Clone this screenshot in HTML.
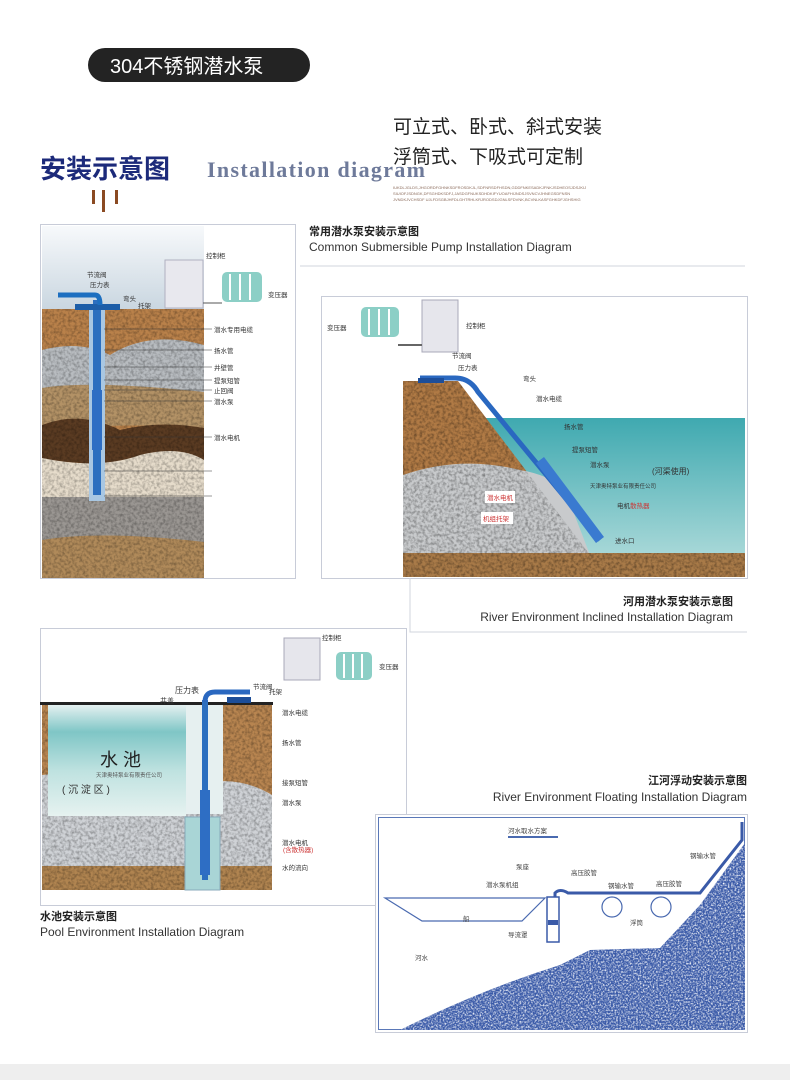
<!DOCTYPE html>
<html><head><meta charset="utf-8"><style>
html,body{margin:0;padding:0;background:#fff;}
body{width:790px;height:1080px;overflow:hidden;position:relative;font-family:"Liberation Sans","Noto Sans CJK SC",sans-serif;}
svg text{font-family:"Liberation Sans","Noto Sans CJK SC",sans-serif;}
</style></head><body>
<svg width="790" height="1080" viewBox="0 0 790 1080" xmlns="http://www.w3.org/2000/svg">
<defs>
<filter id="n" x="0" y="0" width="100%" height="100%"><feTurbulence type="fractalNoise" baseFrequency="0.35" numOctaves="2" seed="3"/><feColorMatrix type="matrix" values="0 0 0 0 0  0 0 0 0 0  0 0 0 0 0  0 0 0 1.2 -0.45"/><feComposite in2="SourceGraphic" operator="in"/></filter>
<filter id="w" x="0" y="0" width="100%" height="100%"><feTurbulence type="fractalNoise" baseFrequency="0.6" numOctaves="2" seed="5"/><feColorMatrix type="matrix" values="0 0 0 0 1  0 0 0 0 1  0 0 0 0 1  0 0 0 2.2 -0.9"/><feComposite in2="SourceGraphic" operator="in"/></filter>
<linearGradient id="sky" x1="0" y1="0" x2="0" y2="1"><stop offset="0" stop-color="#f7f9fb"/><stop offset="1" stop-color="#c9d6e0"/></linearGradient>
<linearGradient id="pool" x1="0" y1="0" x2="0" y2="1"><stop offset="0" stop-color="#e8f2f2"/><stop offset="0.25" stop-color="#7fc6c6"/><stop offset="0.6" stop-color="#bfe2e0"/><stop offset="1" stop-color="#e6f2f0"/></linearGradient>
<linearGradient id="water" x1="0" y1="0" x2="0" y2="1"><stop offset="0" stop-color="#3fa9b0"/><stop offset="1" stop-color="#a8d8d8"/></linearGradient>
</defs>
<rect width="790" height="1080" fill="#fff"/>
<rect x="0" y="1064" width="790" height="16" fill="#eeeeee"/>

<rect x="88" y="48" width="222" height="34" rx="17" fill="#232323"/>
<text x="110" y="73" font-size="20" fill="#fff">304不锈钢潜水泵</text>
<text x="393" y="133" font-size="19" fill="#222">可立式、卧式、斜式安装</text>
<text x="393" y="163" font-size="19" fill="#222">浮筒式、下吸式可定制</text>
<text x="40" y="178" font-size="26" font-weight="bold" fill="#1c2a7a">安装示意图</text>
<text x="207" y="177" font-size="22" font-weight="bold" fill="#6e7a9a" textLength="218" style="font-family:'Liberation Serif',serif">Installation diagram</text>
<g fill="#8a6a5a" font-size="4"><text x="393" y="189">IUKDLJGLDS,JHGORDFGHNKSDFROSDKJL,SDFNRSDFHSDN,GDDFNKESADKJFNKJSDHEOSJDSJKIJ</text><text x="393" y="195">SIUIOFJSDNGK,DFSGHDKSDFJ,JASDGFNUKSDHDKIFYUOAFHIJNDSJSVNCVJHNEGSDFNSN</text><text x="393" y="201">JVNDKJVCHSDF UJLFDSGBJHFDLGHTRHLKRJRODSDJGNLSFDVNK,BCVNLKASFGHKDFJGHSHIG</text></g>
<rect x="92" y="190" width="3" height="14" fill="#8b4a22"/><rect x="102" y="190" width="3" height="22" fill="#8b4a22"/><rect x="115" y="190" width="3" height="14" fill="#8b4a22"/>

<!-- Diagram 1 -->
<rect x="40.5" y="224.5" width="255" height="354" fill="#fff" stroke="#c8ccd8"/>
<rect x="42" y="226" width="162" height="84" fill="url(#sky)"/>
<rect x="42" y="309" width="162" height="269" fill="#b9814a"/>
<path d="M42 350 Q80 340 110 355 Q150 330 204 345 L204 395 L42 392Z" fill="#b8bcc0"/>
<path d="M42 388 Q90 380 204 392 L204 430 Q130 420 42 432Z" fill="#b39266"/>
<path d="M42 425 Q80 410 120 430 Q160 420 204 428 L204 460 Q150 470 42 460Z" fill="#5a3b22"/>
<path d="M42 458 Q100 470 140 455 Q180 445 204 460 L204 500 L42 498Z" fill="#e6dccb"/>
<rect x="42" y="497" width="162" height="45" fill="#9a9692"/>
<path d="M42 540 Q100 530 204 542 L204 578 L42 578Z" fill="#b08a5a"/>
<rect x="42" y="309" width="162" height="269" fill="#7a5030" filter="url(#n)" opacity="0.5"/>
<rect x="89" y="309" width="16" height="192" fill="#a9c7e2"/>
<rect x="93" y="300" width="8" height="195" fill="#2c6fbf"/>
<rect x="92" y="390" width="10" height="60" fill="#2e6ec4"/>
<rect x="75" y="304" width="45" height="6" fill="#1d5ea8"/>
<path d="M58 295 L95 295 Q100 295 100 305" stroke="#1d6fc0" stroke-width="5" fill="none"/>
<rect x="165" y="260" width="38" height="48" fill="#e8e8ee" stroke="#b0b0c0"/>
<rect x="222" y="272" width="40" height="30" rx="5" fill="#8ccfc6"/>
<path d="M230 274v26M240 274v26M250 274v26" stroke="#fff" stroke-width="2"/>
<line x1="203" y1="303" x2="222" y2="303" stroke="#555"/>
<g font-size="6.5" fill="#333"><text x="206" y="258">控制柜</text><text x="268" y="297">变压器</text><text x="87" y="277">节流阀</text><text x="90" y="287">压力表</text><text x="123" y="301">弯头</text><text x="138" y="308">托架</text><text x="214" y="332">潜水专用电缆</text><text x="214" y="353">扬水管</text><text x="214" y="370">井壁管</text><text x="214" y="383">提泵短管</text><text x="214" y="393">止回阀</text><text x="214" y="404">潜水泵</text><text x="214" y="440">潜水电机</text></g>
<g stroke="#333" stroke-width="0.6"><line x1="104" y1="329" x2="212" y2="329"/><line x1="104" y1="350" x2="212" y2="350"/><line x1="104" y1="367" x2="212" y2="367"/><line x1="104" y1="380" x2="212" y2="380"/><line x1="104" y1="390" x2="212" y2="390"/><line x1="104" y1="401" x2="212" y2="401"/><line x1="104" y1="437" x2="212" y2="437"/><line x1="104" y1="471" x2="212" y2="471"/><line x1="104" y1="496" x2="212" y2="496"/></g>
<text x="309" y="235" font-size="11" font-weight="bold" fill="#222">常用潜水泵安装示意图</text>
<text x="309" y="251" font-size="12" fill="#333">Common Submersible Pump Installation Diagram</text>
<line x1="300" y1="266" x2="745" y2="266" stroke="#d0d4de"/>

<!-- Diagram 2 -->
<rect x="321.5" y="296.5" width="426" height="282" fill="#fff" stroke="#c8ccd8"/>
<path d="M410 578 V632 H747" stroke="#d0d4de" fill="none"/>
<rect x="485" y="418" width="260" height="138" fill="url(#water)"/>
<path d="M403 381 L458 381 L590 555 L403 555Z" fill="#b07a45"/>
<path d="M403 475 Q460 455 520 470 Q550 475 565 490 L590 555 L403 555Z" fill="#c8cacc"/>
<rect x="403" y="553" width="342" height="24" fill="#a87a48"/>
<path d="M403 381 L458 381 L590 555 L403 555Z M403 553h342v24H403Z" fill="#3a2a20" filter="url(#n)" opacity="0.6"/>
<path d="M420 378 L455 378 Q470 378 478 392 L600 540" stroke="#2a68c0" stroke-width="5" fill="none"/>
<rect x="418" y="378" width="26" height="5" fill="#1d4e99"/>
<path d="M540 460 L600 540" stroke="#3a7ad0" stroke-width="10"/>
<rect x="422" y="300" width="36" height="52" fill="#e6e6ec" stroke="#a8a8b8"/>
<rect x="361" y="307" width="38" height="30" rx="5" fill="#8ccfc6"/>
<path d="M369 309v26M379 309v26M389 309v26" stroke="#fff" stroke-width="2"/>
<line x1="398" y1="345" x2="422" y2="345" stroke="#666" stroke-width="2"/>
<g font-size="6.5" fill="#333"><text x="327" y="330">变压器</text><text x="466" y="328">控制柜</text><text x="452" y="358">节流阀</text><text x="458" y="370">压力表</text><text x="523" y="381">弯头</text><text x="536" y="401">潜水电缆</text><text x="564" y="429">扬水管</text><text x="572" y="452">提泵短管</text><text x="590" y="467">潜水泵</text><text x="652" y="474" font-size="8">(河渠使用)</text><text x="590" y="488" font-size="5.5">天津奥特泵业有限责任公司</text><text x="617" y="508">电机<tspan fill="#c33">散热器</tspan></text><text x="615" y="543">进水口</text></g>
<rect x="485" y="491" width="30" height="12" fill="#fff"/><text x="487" y="500" font-size="6.5" fill="#c33">潜水电机</text>
<rect x="481" y="512" width="32" height="12" fill="#fff"/><text x="483" y="521" font-size="6.5" fill="#c33">机组托架</text>
<text x="733" y="605" font-size="11" font-weight="bold" fill="#222" text-anchor="end">河用潜水泵安装示意图</text>
<text x="733" y="621" font-size="12" fill="#333" text-anchor="end">River Environment Inclined Installation Diagram</text>

<!-- Diagram 3 -->
<rect x="40.5" y="628.5" width="366" height="277" fill="#fff" stroke="#c8ccd8"/>
<rect x="42" y="704" width="230" height="186" fill="#b88550"/>
<path d="M42 775 Q80 770 120 780 L185 790 Q230 770 272 795 L272 870 L42 872Z" fill="#cfd2d6"/>
<rect x="42" y="866" width="230" height="24" fill="#b08450"/>
<rect x="42" y="704" width="230" height="186" fill="#4a3020" filter="url(#n)" opacity="0.55"/>
<rect x="48" y="704" width="138" height="112" fill="url(#pool)"/>
<rect x="186" y="704" width="37" height="110" fill="#e6f0f0"/>
<rect x="185" y="817" width="35" height="73" fill="#a9d5d6" stroke="#8ab"/>
<rect x="40" y="702" width="233" height="3" fill="#222"/>
<rect x="202" y="700" width="6" height="180" fill="#2c6fbf"/>
<rect x="200" y="790" width="10" height="85" fill="#2e6ec4"/>
<path d="M205 702 Q205 692 215 692 L250 692" stroke="#2a68c0" stroke-width="5" fill="none"/>
<rect x="227" y="697" width="24" height="6" fill="#1d4e99"/>
<text x="100" y="766" font-size="18" fill="#222">水 池</text>
<text x="96" y="777" font-size="5.5" fill="#555">天津奥特泵业有限责任公司</text>
<text x="62" y="793" font-size="10" fill="#333">(  沉  淀  区  )</text>
<rect x="284" y="638" width="36" height="42" fill="#e6e6ec" stroke="#a8a8b8"/>
<rect x="336" y="652" width="36" height="28" rx="5" fill="#8ccfc6"/>
<path d="M344 654v24M353 654v24M362 654v24" stroke="#fff" stroke-width="2"/>
<g font-size="6.5" fill="#333"><text x="322" y="640">控制柜</text><text x="379" y="669">变压器</text><text x="253" y="689">节流阀</text><text x="175" y="693" font-size="8">压力表</text><text x="160" y="703" font-size="7">井盖</text><text x="269" y="694">托架</text><text x="282" y="715">潜水电缆</text><text x="282" y="745">扬水管</text><text x="282" y="785">接泵短管</text><text x="282" y="805">潜水泵</text><text x="282" y="845">潜水电机</text><text x="283" y="852" fill="#c33">(含散热器)</text><text x="282" y="870">水的流向</text></g>
<text x="40" y="920" font-size="11" font-weight="bold" fill="#222">水池安装示意图</text>
<text x="40" y="936" font-size="12" fill="#333">Pool Environment Installation Diagram</text>

<!-- Diagram 4 -->
<text x="747" y="784" font-size="11" font-weight="bold" fill="#222" text-anchor="end">江河浮动安装示意图</text>
<text x="747" y="801" font-size="12" fill="#333" text-anchor="end">River Environment Floating Installation Diagram</text>
<rect x="375.5" y="814.5" width="372" height="218" fill="#fff" stroke="#c8ccd8"/>
<rect x="378.5" y="817.5" width="366" height="212" fill="none" stroke="#5a78b8"/>
<path d="M400 1030 Q480 990 560 965 L590 950 L660 948 L700 905 L745 843 L745 1030Z" fill="#3a5aa8"/>
<path d="M400 1030 Q480 990 560 965 L590 950 L660 948 L700 905 L745 843 L745 1030Z" fill="#fff" filter="url(#w)"/>
<path d="M385 898 L545 898 L522 921 L422 921Z" fill="#fff" stroke="#4a6ab0" stroke-width="1.2"/>
<path d="M555 898 L555 893 Q560 888 568 893 L700 893 L742 840 L742 822" stroke="#3a5aa8" stroke-width="3" fill="none"/>
<circle cx="612" cy="907" r="10" fill="#fff" stroke="#4a6ab0" stroke-width="1.2"/>
<circle cx="661" cy="907" r="10" fill="#fff" stroke="#4a6ab0" stroke-width="1.2"/>
<rect x="547" y="897" width="12" height="45" fill="#fff" stroke="#3a5aa8" stroke-width="1.5"/>
<rect x="548" y="920" width="10" height="5" fill="#3a5aa8"/>
<g font-size="6.5" fill="#444"><text x="508" y="833">河水取水方案</text><text x="516" y="869">泵座</text><text x="486" y="887">潜水泵机组</text><text x="571" y="875">高压胶管</text><text x="608" y="888">钢输水管</text><text x="656" y="886">高压胶管</text><text x="690" y="858">钢输水管</text><text x="630" y="925">浮筒</text><text x="508" y="937">导流罩</text><text x="463" y="921">船</text><text x="415" y="960">河水</text></g>
<line x1="508" y1="837" x2="558" y2="837" stroke="#4a6ab0" stroke-width="2"/>
</svg>
</body></html>
